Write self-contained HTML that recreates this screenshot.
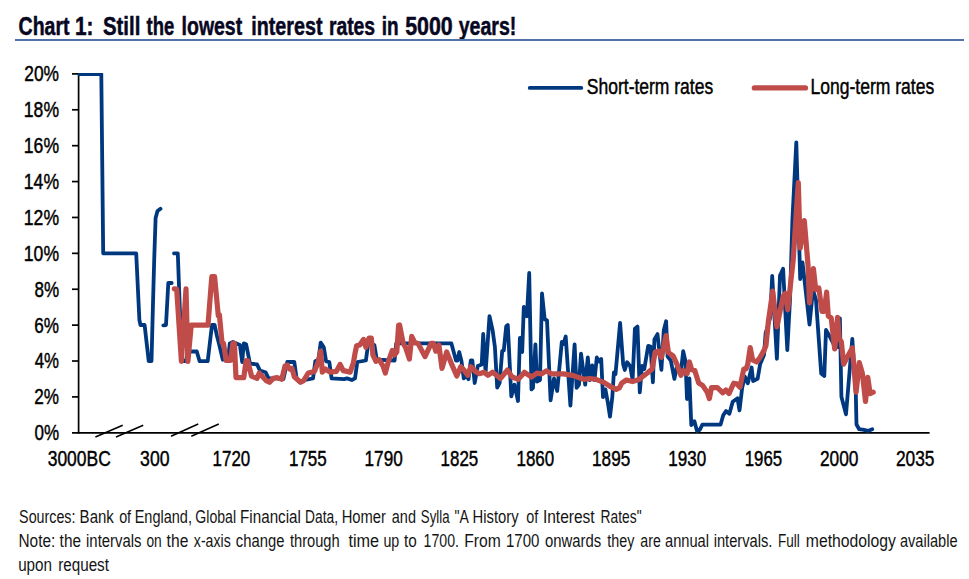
<!DOCTYPE html>
<html lang="en"><head><meta charset="utf-8"><title>Chart 1: Still the lowest interest rates in 5000 years!</title>
<style>
html,body{margin:0;padding:0;background:#fff;}
body{width:969px;height:579px;overflow:hidden;position:relative;font-family:"Liberation Sans",sans-serif;}
svg{position:absolute;left:0;top:0;display:block;}
text{font-family:"Liberation Sans",sans-serif;}
.ax{font-size:22px;fill:#000;stroke:#000;stroke-width:0.45px;}
.ttl{font-size:25.5px;font-weight:bold;fill:#070722;stroke:#070722;stroke-width:0.5px;}
.ft{font-size:17.5px;fill:#141414;}
</style></head><body>
<svg width="969" height="579" viewBox="0 0 969 579">
<text class="ttl" y="35.3"><tspan x="18.57" textLength="50.95" lengthAdjust="spacingAndGlyphs">Chart</tspan> <tspan x="74.95" textLength="18.51" lengthAdjust="spacingAndGlyphs">1:</tspan> <tspan x="102.94" textLength="37.36" lengthAdjust="spacingAndGlyphs">Still</tspan> <tspan x="146.52" textLength="27.73" lengthAdjust="spacingAndGlyphs">the</tspan> <tspan x="181.59" textLength="60.60" lengthAdjust="spacingAndGlyphs">lowest</tspan> <tspan x="251.27" textLength="71.23" lengthAdjust="spacingAndGlyphs">interest</tspan> <tspan x="328.89" textLength="46.24" lengthAdjust="spacingAndGlyphs">rates</tspan> <tspan x="381.72" textLength="16.89" lengthAdjust="spacingAndGlyphs">in</tspan> <tspan x="405.21" textLength="47.54" lengthAdjust="spacingAndGlyphs">5000</tspan> <tspan x="458.70" textLength="57.69" lengthAdjust="spacingAndGlyphs">years!</tspan></text>
<rect x="15" y="39" width="949" height="2" fill="#4f73a8"/>
<g stroke="#000" stroke-width="1.7" fill="none">
<line x1="78.6" y1="73.1" x2="78.6" y2="433.65000000000003"/>
<line x1="72" y1="432.8" x2="929.6" y2="432.8"/>
<line x1="72" y1="396.91" x2="78.6" y2="396.91"/>
<line x1="72" y1="361.02" x2="78.6" y2="361.02"/>
<line x1="72" y1="325.13" x2="78.6" y2="325.13"/>
<line x1="72" y1="289.24" x2="78.6" y2="289.24"/>
<line x1="72" y1="253.35" x2="78.6" y2="253.35"/>
<line x1="72" y1="217.46" x2="78.6" y2="217.46"/>
<line x1="72" y1="181.57" x2="78.6" y2="181.57"/>
<line x1="72" y1="145.68" x2="78.6" y2="145.68"/>
<line x1="72" y1="109.79" x2="78.6" y2="109.79"/>
<line x1="72" y1="73.90" x2="78.6" y2="73.90"/>
<line x1="95.4" y1="437" x2="122.7" y2="425.3" stroke-width="1.5"/>
<line x1="116" y1="437" x2="143.2" y2="425.3" stroke-width="1.5"/>
<line x1="171" y1="436.2" x2="198.2" y2="424" stroke-width="1.5"/>
<line x1="191.3" y1="436.2" x2="218.8" y2="424" stroke-width="1.5"/>
</g>
<text class="ax" x="34.47" y="440.2" textLength="24.58" lengthAdjust="spacingAndGlyphs">0%</text>
<text class="ax" x="34.29" y="404.3" textLength="24.76" lengthAdjust="spacingAndGlyphs">2%</text>
<text class="ax" x="34.77" y="368.4" textLength="24.27" lengthAdjust="spacingAndGlyphs">4%</text>
<text class="ax" x="34.29" y="332.5" textLength="24.76" lengthAdjust="spacingAndGlyphs">6%</text>
<text class="ax" x="34.43" y="296.6" textLength="24.63" lengthAdjust="spacingAndGlyphs">8%</text>
<text class="ax" x="23.83" y="260.8" textLength="35.22" lengthAdjust="spacingAndGlyphs">10%</text>
<text class="ax" x="23.83" y="224.9" textLength="35.22" lengthAdjust="spacingAndGlyphs">12%</text>
<text class="ax" x="23.83" y="189.0" textLength="35.22" lengthAdjust="spacingAndGlyphs">14%</text>
<text class="ax" x="23.83" y="153.1" textLength="35.22" lengthAdjust="spacingAndGlyphs">16%</text>
<text class="ax" x="23.83" y="117.2" textLength="35.22" lengthAdjust="spacingAndGlyphs">18%</text>
<text class="ax" x="24.28" y="81.3" textLength="34.76" lengthAdjust="spacingAndGlyphs">20%</text>
<text class="ax" x="47.70" y="465.5" textLength="63.09" lengthAdjust="spacingAndGlyphs">3000BC</text>
<text class="ax" x="140.09" y="465.5" textLength="29.44" lengthAdjust="spacingAndGlyphs">300</text>
<text class="ax" x="212.58" y="465.5" textLength="37.64" lengthAdjust="spacingAndGlyphs">1720</text>
<text class="ax" x="288.98" y="465.5" textLength="37.79" lengthAdjust="spacingAndGlyphs">1755</text>
<text class="ax" x="364.56" y="465.5" textLength="38.17" lengthAdjust="spacingAndGlyphs">1790</text>
<text class="ax" x="440.58" y="465.5" textLength="37.69" lengthAdjust="spacingAndGlyphs">1825</text>
<text class="ax" x="516.48" y="465.5" textLength="37.75" lengthAdjust="spacingAndGlyphs">1860</text>
<text class="ax" x="592.06" y="465.5" textLength="38.21" lengthAdjust="spacingAndGlyphs">1895</text>
<text class="ax" x="668.37" y="465.5" textLength="37.96" lengthAdjust="spacingAndGlyphs">1930</text>
<text class="ax" x="744.69" y="465.5" textLength="37.47" lengthAdjust="spacingAndGlyphs">1965</text>
<text class="ax" x="819.88" y="465.5" textLength="38.55" lengthAdjust="spacingAndGlyphs">2000</text>
<text class="ax" x="895.88" y="465.5" textLength="38.60" lengthAdjust="spacingAndGlyphs">2035</text>
<defs><clipPath id="plot"><rect x="78" y="73.1" width="870" height="366"/></clipPath></defs>
<g fill="none" stroke="#003880" stroke-width="3.8" stroke-linejoin="round" stroke-linecap="round">
<g clip-path="url(#plot)">
<polyline points="76.0,74.1 101.3,74.1 103.2,253.3 136.2,253.3 139.4,320.0 140.5,325.0 144.6,325.0 148.7,361.0 151.5,361.0 153.0,303.0 154.2,260.0 155.6,218.0 157.5,211.0 160.5,208.8"/>
<polyline points="163.3,325.3 166.0,325.0 168.3,283.0 171.7,283.0"/>
<polyline points="174.0,253.3 177.8,253.3 179.5,300.0 182.0,361.0 186.0,361.0 188.0,351.5 191.2,351.5 196.8,351.5 199.6,361.2 207.7,361.2 212.0,324.8 214.6,325.0 217.0,336.0 219.0,343.7 222.8,359.7 228.2,358.2 229.8,343.4 232.9,341.9 239.9,345.0 242.2,362.0 243.8,343.4 246.1,344.2 250.0,363.6 257.0,364.4 260.0,370.6 265.5,372.2 268.6,378.4 277.2,378.4 283.4,379.2 287.3,362.0 294.3,362.0 296.6,378.4 299.0,381.5 305.0,380.0 313.0,378.4 315.3,361.3 318.4,359.7 320.7,342.6 323.8,347.3 326.1,361.3 329.3,362.0 331.6,378.4 344.0,379.2 347.1,378.4 351.8,380.0 355.0,378.4 357.3,362.0 365.9,360.5 368.2,343.4 374.4,345.0 376.8,359.7 394.6,360.5 396.2,343.4 451.4,343.4 456.0,360.5 457.5,360.5 459.2,352.0 461.5,361.3 463.8,378.4 466.1,375.3 468.5,379.2 470.8,360.5 472.3,360.5 474.7,383.0 477.8,366.0 481.7,364.4 483.2,334.0 485.6,372.2 489.5,316.2 492.6,330.2 494.9,347.0 497.2,387.7 499.6,383.0 502.2,351.0 503.8,350.5 506.2,326.5 507.8,325.0 511.3,396.4 514.4,384.7 518.0,401.0 519.9,338.0 520.7,338.0 522.2,352.0 523.8,307.0 526.9,316.3 529.2,273.0 531.5,389.4 533.0,387.9 535.4,344.3 537.0,381.6 540.0,380.0 542.0,293.5 544.7,319.4 547.0,320.2 550.6,400.3 554.0,378.5 557.2,391.0 561.8,342.0 563.4,344.0 565.7,336.5 570.4,405.7 574.6,344.3 576.6,387.9 579.0,384.7 581.0,353.6 585.2,384.7 587.8,357.5 589.8,380.0 592.2,365.3 594.5,380.0 596.8,357.5 599.2,361.4 601.2,359.0 603.0,397.2 605.4,389.4 607.7,401.8 610.0,416.6 612.3,397.0 613.9,372.3 615.5,374.0 620.1,323.0 623.2,364.5 624.8,370.0 627.1,362.2 630.2,366.1 632.6,380.0 634.9,328.7 637.5,326.6 639.8,392.4 642.0,366.0 644.3,369.0 648.2,345.8 650.5,346.5 652.9,382.3 654.4,339.5 657.5,334.1 661.4,369.8 663.8,330.2 666.1,321.3 667.6,356.6 670.8,360.5 674.4,378.8 677.0,366.0 680.9,372.0 683.2,351.2 685.5,361.3 687.0,399.0 689.4,378.4 691.3,425.2 694.4,421.2 697.0,431.0 699.7,430.0 702.4,424.6 720.6,424.6 723.3,415.1 726.0,411.1 729.4,413.8 732.7,401.7 737.5,398.3 739.5,410.4 742.2,387.5 744.9,376.7 747.8,383.2 751.6,367.5 753.1,381.0 757.6,378.8 760.1,364.4 762.1,359.5 764.0,355.0 765.6,333.3 770.2,317.8 772.2,275.8 776.9,358.8 780.0,275.5 783.1,268.8 787.3,350.2 790.0,300.0 792.4,220.0 796.3,142.3 800.2,279.0 802.5,262.5 809.5,324.5 813.0,290.0 816.0,300.0 821.2,373.5 824.3,375.9 826.0,330.0 829.7,336.5 834.0,345.0 837.8,347.0 839.9,318.3 841.4,396.8 846.0,414.3 852.3,338.8 855.8,393.5 856.5,424.5 859.2,429.2 863.9,429.8 867.9,430.9 872.2,429.2"/>
</g>
<line x1="529.7" y1="87.9" x2="581.3" y2="87.9"/>
</g>
<g fill="none" stroke="#c04c49" stroke-width="5.2" stroke-linejoin="round" stroke-linecap="round">
<polyline points="174.3,288.9 176.7,289.0 181.4,361.4 186.0,288.9 187.9,361.4 191.2,325.2 208.0,325.2 211.8,276.7 214.6,276.7 218.3,315.7 219.4,314.7 222.0,342.6 223.5,343.4 226.2,360.5 230.5,360.5 232.9,343.4 234.4,343.4 236.0,377.6 243.8,377.6 246.1,360.5 247.6,360.5 251.5,376.0 257.0,378.4 259.3,373.0 266.3,380.7 269.4,382.3 273.3,378.4 277.2,377.6 281.8,379.2 285.0,366.0 287.3,365.2 289.6,369.0 292.0,368.3 294.3,376.8 300.5,382.3 303.6,380.7 308.3,373.0 314.5,371.4 318.4,361.3 320.7,351.2 322.3,372.2 325.4,369.0 330.0,372.2 336.3,371.4 340.1,364.4 343.2,370.6 347.1,371.4 350.2,372.2 353.4,362.9 355.0,353.5 356.6,345.8 359.7,345.0 363.5,339.5 365.9,347.3 369.0,338.0 371.3,338.0 372.9,355.0 376.0,361.3 379.1,359.7 383.0,366.0 385.3,373.0 388.4,361.3 392.3,350.4 394.6,355.0 396.8,352.0 398.6,325.3 399.6,325.0 403.2,343.4 405.5,347.3 409.4,359.0 411.7,336.4 414.8,342.6 418.0,343.4 425.0,356.6 431.2,343.4 433.5,343.4 435.8,351.2 438.9,345.0 442.0,368.3 446.7,352.0 451.4,363.6 456.8,376.0 460.7,366.7 463.8,369.8 467.7,375.3 470.8,366.7 475.5,371.4 479.4,373.7 484.0,372.2 487.9,375.3 492.6,372.2 496.5,375.3 500.4,378.5 504.3,373.9 507.4,370.0 512.1,377.0 518.3,379.3 524.5,372.3 531.5,377.0 537.0,373.1 541.6,373.9 546.3,370.8 551.7,373.9 563.4,373.9 572.7,375.4 583.6,379.3 589.8,378.5 596.0,379.3 603.8,382.4 610.0,386.3 616.3,389.4 619.4,387.9 621.7,383.2 626.4,380.0 632.6,381.6 639.6,379.3 641.2,377.6 647.4,373.0 652.1,369.0 655.2,352.0 658.3,351.2 661.4,357.4 666.1,335.6 668.4,352.7 673.1,355.9 677.0,364.4 680.9,375.3 683.2,370.6 687.1,373.7 689.4,362.0 691.7,369.8 694.8,370.6 698.7,383.0 702.6,385.4 707.3,392.4 709.4,398.6 711.5,387.6 717.4,387.7 722.8,392.8 725.9,390.0 729.0,393.6 733.7,383.2 736.8,383.8 739.9,387.2 743.8,369.0 746.1,369.0 747.7,364.4 750.2,347.6 752.6,360.0 756.7,362.0 760.0,357.5 764.0,350.4 766.0,345.5 768.3,322.2 772.7,291.1 776.9,326.8 783.1,296.5 785.4,293.4 787.7,309.7 793.2,260.0 798.3,182.5 800.2,248.0 804.3,220.6 808.0,264.7 809.5,302.7 813.4,268.5 815.7,289.5 818.8,288.0 822.0,311.3 824.3,311.3 826.6,292.2 828.3,316.0 831.2,318.0 834.7,349.0 837.6,317.3 839.3,339.0 841.3,341.5 843.7,364.2 847.6,356.4 852.3,347.9 856.1,392.2 859.3,362.6 862.4,373.5 865.5,401.5 867.8,377.4 870.1,393.7 873.2,392.2"/>
<line x1="754.3" y1="87.9" x2="805.5" y2="87.9"/>
</g>
<text class="ax" x="586.86" y="94.4" textLength="126.29" lengthAdjust="spacingAndGlyphs">Short-term rates</text>
<text class="ax" x="810.50" y="94.4" textLength="123.74" lengthAdjust="spacingAndGlyphs">Long-term rates</text>
<text class="ft" y="523.1"><tspan x="19.11" textLength="56.35" lengthAdjust="spacingAndGlyphs">Sources:</tspan> <tspan x="79.61" textLength="34.23" lengthAdjust="spacingAndGlyphs">Bank</tspan> <tspan x="119.14" textLength="12.00" lengthAdjust="spacingAndGlyphs">of</tspan> <tspan x="134.65" textLength="57.31" lengthAdjust="spacingAndGlyphs">England,</tspan> <tspan x="195.34" textLength="40.77" lengthAdjust="spacingAndGlyphs">Global</tspan> <tspan x="240.10" textLength="60.77" lengthAdjust="spacingAndGlyphs">Financial</tspan> <tspan x="305.12" textLength="32.88" lengthAdjust="spacingAndGlyphs">Data,</tspan> <tspan x="341.73" textLength="44.25" lengthAdjust="spacingAndGlyphs">Homer</tspan> <tspan x="391.84" textLength="24.13" lengthAdjust="spacingAndGlyphs">and</tspan> <tspan x="420.85" textLength="28.76" lengthAdjust="spacingAndGlyphs">Sylla</tspan> <tspan x="454.58" textLength="13.59" lengthAdjust="spacingAndGlyphs">&quot;A</tspan> <tspan x="472.53" textLength="46.04" lengthAdjust="spacingAndGlyphs">History</tspan> <tspan x="526.34" textLength="12.00" lengthAdjust="spacingAndGlyphs">of</tspan> <tspan x="542.91" textLength="51.75" lengthAdjust="spacingAndGlyphs">Interest</tspan> <tspan x="600.61" textLength="40.92" lengthAdjust="spacingAndGlyphs">Rates&quot;</tspan></text>
<text class="ft" y="547.2"><tspan x="18.48" textLength="36.76" lengthAdjust="spacingAndGlyphs">Note:</tspan> <tspan x="59.62" textLength="21.39" lengthAdjust="spacingAndGlyphs">the</tspan> <tspan x="86.04" textLength="55.51" lengthAdjust="spacingAndGlyphs">intervals</tspan> <tspan x="146.47" textLength="15.27" lengthAdjust="spacingAndGlyphs">on</tspan> <tspan x="166.62" textLength="21.70" lengthAdjust="spacingAndGlyphs">the</tspan> <tspan x="193.87" textLength="36.85" lengthAdjust="spacingAndGlyphs">x-axis</tspan> <tspan x="235.82" textLength="48.57" lengthAdjust="spacingAndGlyphs">change</tspan> <tspan x="289.93" textLength="49.76" lengthAdjust="spacingAndGlyphs">through</tspan> <tspan x="348.41" textLength="30.66" lengthAdjust="spacingAndGlyphs">time</tspan> <tspan x="383.43" textLength="15.83" lengthAdjust="spacingAndGlyphs">up</tspan> <tspan x="403.92" textLength="12.77" lengthAdjust="spacingAndGlyphs">to</tspan> <tspan x="423.59" textLength="35.33" lengthAdjust="spacingAndGlyphs">1700.</tspan> <tspan x="464.26" textLength="36.52" lengthAdjust="spacingAndGlyphs">From</tspan> <tspan x="506.02" textLength="33.42" lengthAdjust="spacingAndGlyphs">1700</tspan> <tspan x="544.92" textLength="56.35" lengthAdjust="spacingAndGlyphs">onwards</tspan> <tspan x="607.24" textLength="27.05" lengthAdjust="spacingAndGlyphs">they</tspan> <tspan x="640.35" textLength="20.51" lengthAdjust="spacingAndGlyphs">are</tspan> <tspan x="665.03" textLength="44.02" lengthAdjust="spacingAndGlyphs">annual</tspan> <tspan x="713.66" textLength="58.80" lengthAdjust="spacingAndGlyphs">intervals.</tspan> <tspan x="777.93" textLength="21.82" lengthAdjust="spacingAndGlyphs">Full</tspan> <tspan x="805.79" textLength="90.18" lengthAdjust="spacingAndGlyphs">methodology</tspan> <tspan x="899.93" textLength="57.64" lengthAdjust="spacingAndGlyphs">available</tspan></text>
<text class="ft" y="571"><tspan x="18.16" textLength="33.87" lengthAdjust="spacingAndGlyphs">upon</tspan> <tspan x="58.16" textLength="50.81" lengthAdjust="spacingAndGlyphs">request</tspan></text>
</svg></body></html>
